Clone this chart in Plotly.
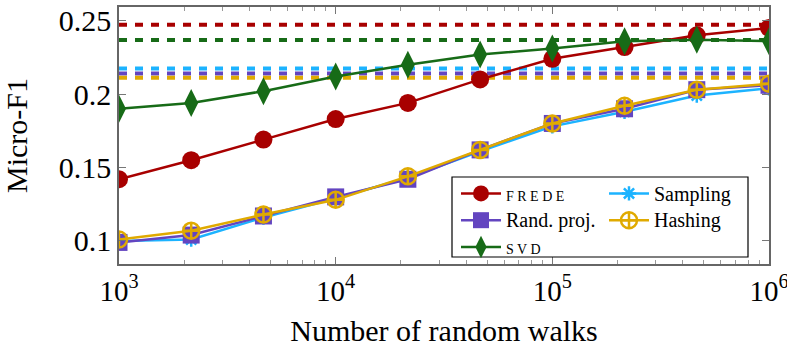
import plotly.graph_objects as go

walks = [1e3, 2.154e3, 4.642e3, 1e4, 2.154e4, 4.642e4, 1e5, 2.154e5, 4.642e5, 1e6]
frede = [0.142, 0.155, 0.169, 0.183, 0.194, 0.210, 0.224, 0.232, 0.240, 0.245]
svd = [0.190, 0.194, 0.202, 0.212, 0.220, 0.227, 0.231, 0.236, 0.237, 0.236]
sampling = [0.100, 0.101, 0.116, 0.129, 0.143, 0.161, 0.178, 0.188, 0.199, 0.204]
randproj = [0.099, 0.104, 0.117, 0.130, 0.142, 0.162, 0.180, 0.190, 0.203, 0.206]
hashing = [0.101, 0.107, 0.118, 0.128, 0.144, 0.162, 0.180, 0.192, 0.203, 0.207]

# reference levels (dashed)
ref_frede = 0.2472
ref_svd = 0.2368
ref_sampling = 0.2175
ref_randproj = 0.2141
ref_hashing = 0.2111

x_ticks = [1e3, 1e4, 1e5, 1e6]
x_ticktext = ["10<sup>3</sup>", "10<sup>4</sup>", "10<sup>5</sup>", "10<sup>6</sup>"]
y_ticks = [0.1, 0.15, 0.2, 0.25]
y_ticktext = ["0.1", "0.15", "0.2", "0.25"]

RED = "#a80000"
GREEN = "#176b17"
PURPLE = "#6345c0"
CYAN = "#1cb3ff"
GOLD = "#e0aa00"

FONT = "Liberation Serif"

fig = go.Figure()

span = [walks[0], walks[-1]]
for val, col in [(ref_frede, RED), (ref_svd, GREEN), (ref_sampling, CYAN),
                 (ref_randproj, PURPLE), (ref_hashing, GOLD)]:
    fig.add_trace(go.Scatter(x=span, y=[val, val], mode="lines",
                             line=dict(color=col, width=4, dash="8px,8px"),
                             showlegend=False, hoverinfo="skip"))


def big(t):
    return '<span style="font-size:20px">' + t + '</span>'


def smallcaps(t):
    return '<span style="font-size:14px">' + " ".join(t) + '</span>'


fig.add_trace(go.Scatter(x=walks, y=frede, mode="lines+markers",
                         name=smallcaps("FREDE"),
                         line=dict(color=RED, width=2.5),
                         marker=dict(symbol="circle", size=18, color=RED),
                         legend="legend", legendrank=1))
fig.add_trace(go.Scatter(x=walks, y=svd, mode="lines+markers",
                         name=smallcaps("SVD"),
                         line=dict(color=GREEN, width=2.5),
                         marker=dict(symbol="diamond-tall", size=20, color=GREEN),
                         legend="legend", legendrank=3))
fig.add_trace(go.Scatter(x=walks, y=sampling, mode="lines+markers",
                         name=big("Sampling"),
                         line=dict(color=CYAN, width=2.5),
                         marker=dict(symbol="asterisk-open", size=12,
                                     line=dict(color=CYAN, width=2.5)),
                         legend="legend2", legendrank=1))
fig.add_trace(go.Scatter(x=walks, y=randproj, mode="lines+markers",
                         name=big("Rand. proj."),
                         line=dict(color=PURPLE, width=2.5),
                         marker=dict(symbol="square", size=17, color=PURPLE),
                         legend="legend", legendrank=2))
fig.add_trace(go.Scatter(x=walks, y=hashing, mode="lines+markers",
                         name=big("Hashing"),
                         line=dict(color=GOLD, width=2.5),
                         marker=dict(symbol="circle-cross-open", size=16,
                                     line=dict(color=GOLD, width=2.5)),
                         legend="legend2", legendrank=2))

minor_vals = [m * 10 ** k for k in range(3, 6) for m in range(2, 10)]

PL, PR, PT, PB = 119, 18, 7, 87
PW = 787 - PL - PR
PH = 351 - PT - PB


def px_x(x):
    return (x - PL) / PW


def px_y(y):
    return (351 - PB - y) / PH


legend_common = dict(
    xanchor="left", yanchor="top", orientation="v",
    bgcolor="rgba(0,0,0,0)", borderwidth=0,
    font=dict(family=FONT, size=18.3, color="black"),
    itemwidth=40, tracegroupgap=0, traceorder="normal",
)

fig.update_layout(
    width=787, height=351,
    margin=dict(l=PL, r=PR, t=PT, b=PB),
    plot_bgcolor="white", paper_bgcolor="white",
    font=dict(family=FONT, size=22, color="black"),
    showlegend=True,
    legend=dict(x=px_x(456), y=px_y(175), **legend_common),
    legend2=dict(x=px_x(604), y=px_y(175), **legend_common),
    shapes=[dict(type="rect", xref="paper", yref="paper",
                 x0=px_x(452), x1=px_x(748), y0=px_y(257), y1=px_y(177),
                 line=dict(color="black", width=1.2), fillcolor="white",
                 layer="above")],
    xaxis=dict(
        type="log", range=[3, 6], automargin=False,
        tickvals=x_ticks, ticktext=x_ticktext, ticklabeloverflow="allow",
        ticks="inside", ticklen=7, tickcolor="#777", tickwidth=1,
        minor=dict(ticks="inside", ticklen=4, tickvals=minor_vals, tickcolor="#999", showgrid=False),
        showline=True, linecolor="#666", linewidth=1.5, mirror="ticks",
        showgrid=False, zeroline=False,
        title=dict(text="Number of random walks", font=dict(size=30), standoff=14),
        tickfont=dict(size=29),
    ),
    yaxis=dict(
        range=[0.0843, 0.2593], automargin=False,
        tickvals=y_ticks, ticktext=y_ticktext, ticklabeloverflow="allow",
        ticks="inside", ticklen=7, tickcolor="#777", tickwidth=1,
        showline=True, linecolor="#666", linewidth=1.5, mirror="ticks",
        showgrid=False, zeroline=False,
        title=dict(text="Micro-F1", font=dict(size=30), standoff=26),
        tickfont=dict(size=30),
    ),
)

fig.write_html("out.html")
